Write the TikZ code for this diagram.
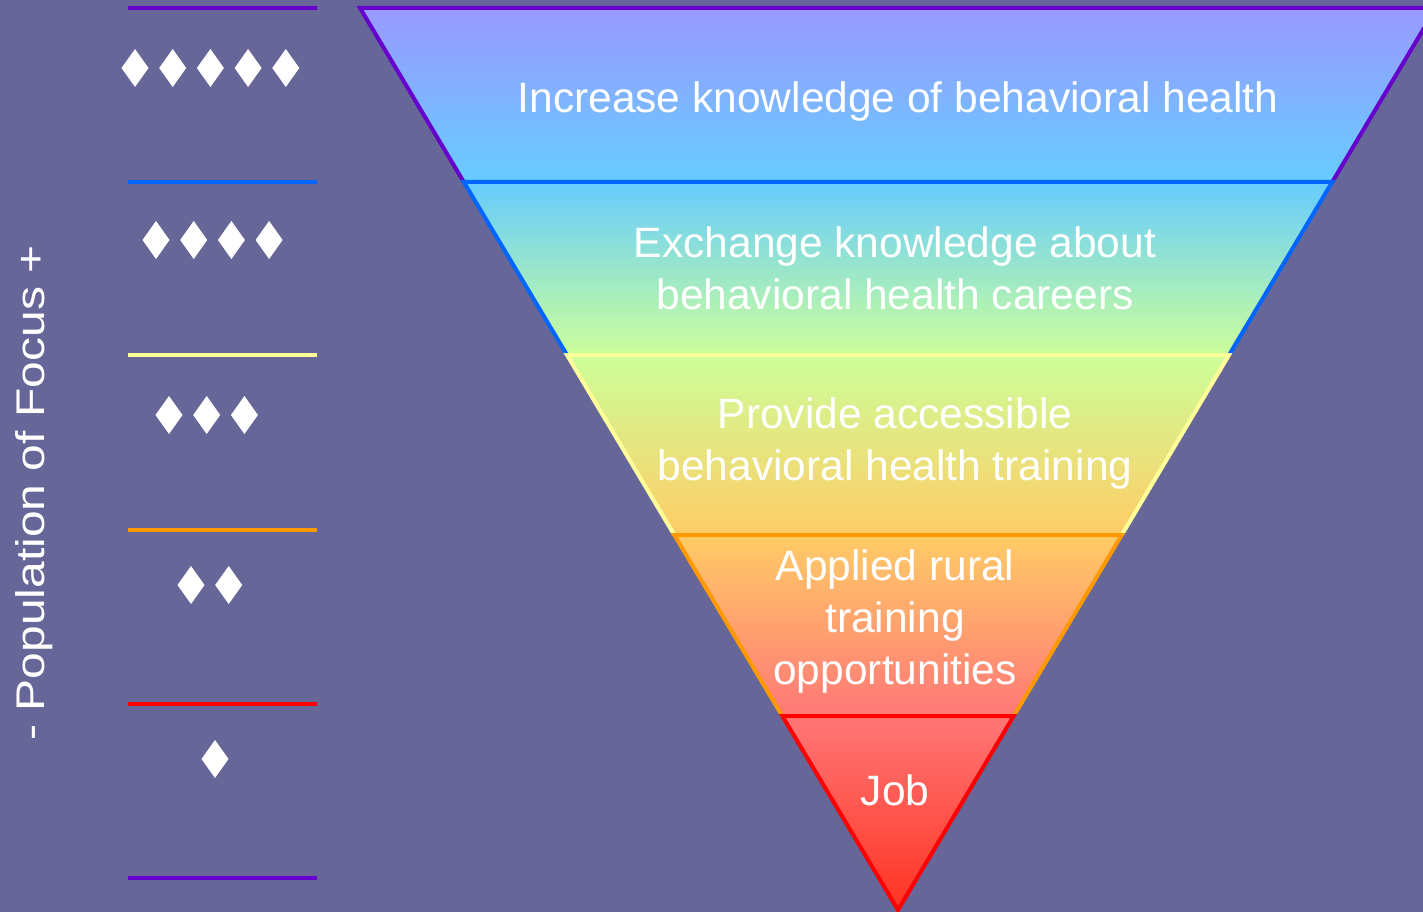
\documentclass[tikz,border=0pt]{standalone}
\usepackage{fontspec}
\setmainfont{Liberation Sans}
\usetikzlibrary{positioning}
\usepackage{xcolor}

\definecolor{bgslate}{HTML}{666699}
\definecolor{lnpurple}{HTML}{6600CC}
\definecolor{lnblue}{HTML}{0066FF}
\definecolor{lnyellow}{HTML}{FFFF99}
\definecolor{lnorange}{HTML}{FF9900}
\definecolor{lnred}{HTML}{FF0000}
\definecolor{shlav}{HTML}{9999FF}
\definecolor{shsky}{HTML}{66CCFF}
\definecolor{shlime}{HTML}{CCFF99}
\definecolor{shsand}{HTML}{FFCC66}
\definecolor{shpink}{HTML}{FF7777}
\definecolor{shtomato}{HTML}{FF3322}

\begin{document}
\begin{tikzpicture}[x=1pt,y=-1pt]
    \tikzstyle{edge} = [line width=4pt, line join=miter]
    \tikzstyle{rule} = [line width=4pt]
    \tikzstyle{bandtext} = [text=white, align=center, anchor=base,
               inner sep=0pt,
               font=\fontsize{42.5}{52}\selectfont]

    % Background
    \fill[bgslate] (0,0) rectangle (1423,912);
    \useasboundingbox (0,0) rectangle (1423,912);
    \clip (0,0) rectangle (1423,912);

    % Funnel corners
    \coordinate (L0) at (360,8);     \coordinate (R0) at (1436,8);
    \coordinate (L1) at (463.8,182); \coordinate (R1) at (1332.2,182);
    \coordinate (L2) at (567,355);   \coordinate (R2) at (1229,355);
    \coordinate (L3) at (674.3,535); \coordinate (R3) at (1121.7,535);
    \coordinate (L4) at (782.3,716); \coordinate (R4) at (1013.7,716);
    \coordinate (apex) at (898,910);

    % Bands, top to bottom
    \shade[top color=shlav, bottom color=shsky] (L0) -- (R0) -- (R1) -- (L1) -- cycle;
    \draw[edge, lnpurple] (L1) -- (L0) -- (R0) -- (R1);

    \shade[top color=shsky, bottom color=shlime] (L1) -- (R1) -- (R2) -- (L2) -- cycle;
    \draw[edge, lnblue] (L2) -- (L1) -- (R1) -- (R2);

    \shade[top color=shlime, bottom color=shsand] (L2) -- (R2) -- (R3) -- (L3) -- cycle;
    \draw[edge, lnyellow] (L3) -- (L2) -- (R2) -- (R3);

    \shade[top color=shsand, bottom color=shpink] (L3) -- (R3) -- (R4) -- (L4) -- cycle;
    \draw[edge, lnorange] (L4) -- (L3) -- (R3) -- (R4);

    \shade[top color=shpink, bottom color=shtomato] (L4) -- (R4) -- (apex) -- cycle;
    \draw[edge, lnred] (apex) -- (L4) -- (R4) -- cycle;

    % Band labels (base = last line)
    \node[bandtext] (know) at (898,113) {Increase knowledge of behavioral health};
    \node[bandtext] (exchange) at (895,309) {Exchange knowledge about\\behavioral health careers};
    \node[bandtext] (training) at (895,480) {Provide accessible\\behavioral health training};
    \node[bandtext] (rural) at (895,684) {Applied rural\\training\\opportunities};
    \node[bandtext] (job) at (895,805) {Job};

    % Scale rules on the left
    \foreach \y/\c in {8/lnpurple, 182/lnblue, 355/lnyellow, 530/lnorange, 704/lnred, 878/lnpurple}
        \draw[rule, \c] (128,\y) -- (317,\y);

    % Diamonds
    \foreach \n/\cx/\cy in {5/135/68, 4/156/240, 3/169/415, 2/191/585, 1/215/759}
        \foreach \k in {1,...,\n}
            \fill[white] ({\cx+(\k-1)*37.7},\cy-19) -- ++(13.5,19) -- ++(-13.5,19) -- ++(-13.5,-19) -- cycle;

    % Axis title
    \node[bandtext, font=\fontsize{40}{48}\selectfont, rotate=90, xscale=1.2] (focus) at (44,493) {- Population of Focus +};

\end{tikzpicture}
\end{document}
